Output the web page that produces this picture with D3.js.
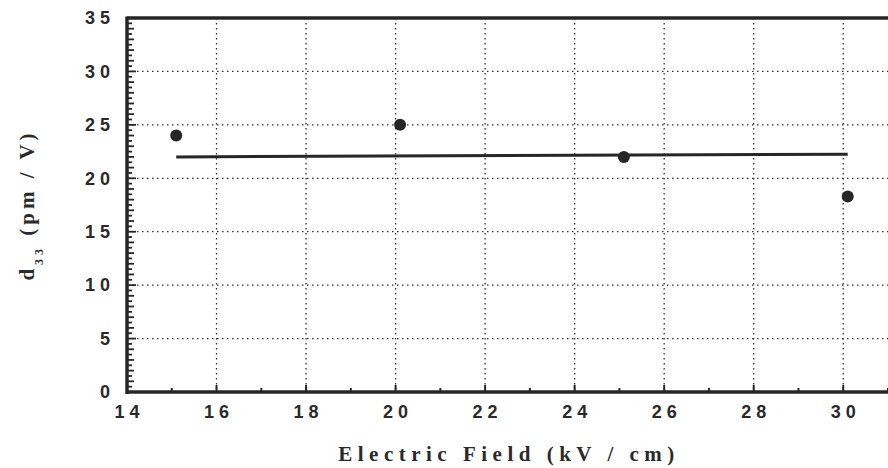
<!DOCTYPE html>
<html>
<head>
<meta charset="utf-8">
<script src="https://cdn.jsdelivr.net/npm/d3@7"></script>
<style>
  body { margin: 0; background: #fff; }
  svg { display: block; }
  .tick-label { font-family: "Liberation Sans", sans-serif; font-weight: bold; font-size: 18px; fill: #2a2a2a; letter-spacing: 5px; }
  .axis-title { font-family: "Liberation Serif", serif; font-weight: bold; font-size: 21px; fill: #2a2a2a; }
</style>
</head>
<body>
<div id="chart"></div>
<script>
// measured points (electric field kV/cm, d33 pm/V)
var fieldValues = [15.1, 20.1, 25.1, 30.1];
var d33Values   = [24.0, 25.0, 22.0, 18.3];

// fitted line end points
var fitField = [15.1, 30.1];
var fitD33   = [22.0, 22.25];

var xTicks = [14, 16, 18, 20, 22, 24, 26, 28, 30];
var yTicks = [0, 5, 10, 15, 20, 25, 30, 35];

var width = 888, height = 468,
    margin = {top: 18, right: 0, bottom: 76, left: 127},
    ink = "#262626";

var svg = d3.select("#chart").append("svg")
    .attr("width", width)
    .attr("height", height);

var xScale = d3.scaleLinear().domain([14, 31]).range([margin.left, width - margin.right]);
var yScale = d3.scaleLinear().domain([0, 35]).range([height - margin.bottom, margin.top]);

var x0 = xScale(14), y0 = yScale(0), yTop = yScale(35);

// dotted grid
var grid = svg.append("g")
    .attr("stroke", "#303030")
    .attr("stroke-width", 1.3)
    .attr("stroke-dasharray", "1.5,3.5");

grid.selectAll("line.v").data(xTicks.filter((d) => d > 14))
  .enter().append("line")
    .attr("x1", (d) => xScale(d)).attr("x2", (d) => xScale(d))
    .attr("y1", yTop).attr("y2", y0);

grid.selectAll("line.h").data(yTicks.filter((d) => d > 0 && d < 35))
  .enter().append("line")
    .attr("x1", x0).attr("x2", width)
    .attr("y1", (d) => yScale(d)).attr("y2", (d) => yScale(d));

// frame: top, left, bottom
var frame = svg.append("g").attr("stroke", ink).attr("fill", "none");
frame.append("line").attr("x1", x0).attr("x2", width).attr("y1", yTop).attr("y2", yTop).attr("stroke-width", 3.5);
frame.append("line").attr("x1", x0).attr("x2", x0).attr("y1", yTop - 1.5).attr("y2", y0 + 2).attr("stroke-width", 3.5);
frame.append("line").attr("x1", x0).attr("x2", width).attr("y1", y0).attr("y2", y0).attr("stroke-width", 3.5);

// inward ticks on the left axis, every 0.5
var yMinor = d3.range(0, 35.01, 0.5);
frame.selectAll("line.ymin").data(yMinor)
  .enter().append("line")
    .attr("x1", x0)
    .attr("x2", (d) => x0 + (d % 5 === 0 ? 9 : (d % 1 === 0 ? 7 : 5)))
    .attr("y1", (d) => yScale(d)).attr("y2", (d) => yScale(d))
    .attr("stroke-width", 1.8);

// inward ticks on the bottom axis
var xMinor = d3.range(14, 31.01, 1);
frame.selectAll("line.xmin").data(xMinor)
  .enter().append("line")
    .attr("x1", (d) => xScale(d)).attr("x2", (d) => xScale(d))
    .attr("y1", y0).attr("y2", (d) => y0 - (d % 2 === 0 ? 7 : 4))
    .attr("stroke-width", 2);

// tick labels
svg.append("g").selectAll("text").data(xTicks)
  .enter().append("text")
    .attr("class", "tick-label")
    .attr("x", (d) => xScale(d) + 2.5)
    .attr("y", y0 + 26)
    .attr("text-anchor", "middle")
    .text((d) => d);

svg.append("g").selectAll("text").data(yTicks)
  .enter().append("text")
    .attr("class", "tick-label")
    .attr("x", x0 - 12)
    .attr("y", (d) => yScale(d))
    .attr("dy", "0.35em")
    .attr("text-anchor", "end")
    .text((d) => d);

// fitted line
svg.append("line")
    .attr("x1", xScale(fitField[0])).attr("x2", xScale(fitField[1]))
    .attr("y1", yScale(fitD33[0])).attr("y2", yScale(fitD33[1]))
    .attr("stroke", ink)
    .attr("stroke-width", 3);

// data points
svg.append("g").selectAll("circle").data(fieldValues)
  .enter().append("circle")
    .attr("cx", (d) => xScale(d))
    .attr("cy", (d, i) => yScale(d33Values[i]))
    .attr("r", 6)
    .attr("fill", ink);

// axis titles
svg.append("text")
    .attr("class", "axis-title")
    .attr("x", 509)
    .attr("y", 461)
    .attr("text-anchor", "middle")
    .attr("letter-spacing", "5.5px")
    .text("Electric Field (kV / cm)");

var yTitle = svg.append("text")
    .attr("class", "axis-title")
    .attr("text-anchor", "middle")
    .attr("letter-spacing", "4px")
    .attr("transform", "translate(34,205) rotate(-90)");
yTitle.append("tspan").text("d");
yTitle.append("tspan").attr("dy", 9).attr("font-size", 12).text("33");
yTitle.append("tspan").attr("dy", -9).text(" (pm / V)");
</script>
</body>
</html>
